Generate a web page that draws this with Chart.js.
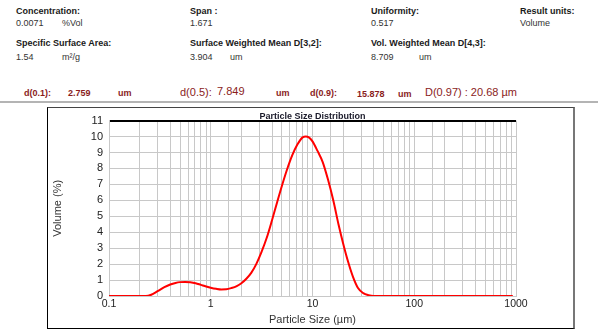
<!DOCTYPE html>
<html>
<head>
<meta charset="utf-8">
<script src="https://cdn.jsdelivr.net/npm/chart.js@4.4.1/dist/chart.umd.min.js"></script>
<style>
  html, body { margin: 0; padding: 0; background: #fff; }
  body { width: 598px; height: 332px; position: relative; overflow: hidden; font-family: "Liberation Sans", Arial, sans-serif; }
  .t { position: absolute; white-space: nowrap; line-height: 10px; font-size: 9px; color: #333; }
  .b { font-weight: bold; color: #1a1a1a; }
  .r { color: #8a1c1c; font-weight: bold; font-size: 9px; }
  .rb { color: #8a1c1c; font-size: 11px; line-height: 12px; }
  #sep { position: absolute; left: 0; top: 101px; width: 598px; height: 2px; background: #b4b4b4; }
  #box { position: absolute; left: 47px; top: 107px; width: 525px; height: 220px;
         border-left: 1px solid #000; border-top: 1px solid #444; border-bottom: 1px solid #000; border-right: 2px solid #777; }
</style>
</head>
<body>
<div class="t b" style="left:16px;top:6px">Concentration:</div>
<div class="t" style="left:16px;top:18px">0.0071</div>
<div class="t" style="left:62px;top:18px">%Vol</div>
<div class="t b" style="left:190px;top:6px">Span :</div>
<div class="t" style="left:190px;top:18px">1.671</div>
<div class="t b" style="left:371px;top:6px">Uniformity:</div>
<div class="t" style="left:371px;top:18px">0.517</div>
<div class="t b" style="left:520px;top:6px">Result units:</div>
<div class="t" style="left:520px;top:18px">Volume</div>

<div class="t b" style="left:16px;top:38px">Specific Surface Area:</div>
<div class="t" style="left:16px;top:52px">1.54</div>
<div class="t" style="left:62px;top:52px">m²/g</div>
<div class="t b" style="left:190px;top:38px">Surface Weighted Mean D[3,2]:</div>
<div class="t" style="left:190px;top:52px">3.904</div>
<div class="t" style="left:230px;top:52px">um</div>
<div class="t b" style="left:371px;top:38px">Vol. Weighted Mean D[4,3]:</div>
<div class="t" style="left:371px;top:52px">8.709</div>
<div class="t" style="left:419px;top:52px">um</div>

<div class="t r" style="left:24px;top:88px">d(0.1):</div>
<div class="t r" style="left:68px;top:88px">2.759</div>
<div class="t r" style="left:118px;top:88px">um</div>
<div class="t rb" style="left:180px;top:86px">d(0.5):</div>
<div class="t rb" style="left:217px;top:85px">7.849</div>
<div class="t r" style="left:276px;top:88px">um</div>
<div class="t r" style="left:310px;top:88px">d(0.9):</div>
<div class="t r" style="left:357px;top:89px">15.878</div>
<div class="t r" style="left:398px;top:89px">um</div>
<div class="t rb" style="left:425px;top:86px">D(0.97) : 20.68 µm</div>

<div id="sep"></div>
<div id="box"><canvas id="psd" width="525" height="220"></canvas></div>

<script>
// particle size (um) and volume (%)
const sizes = [0.1, 0.15, 0.2, 0.23, 0.26, 0.3, 0.35, 0.4, 0.45, 0.5, 0.56, 0.63, 0.71, 0.8, 0.9,
  1.0, 1.13, 1.27, 1.42, 1.6, 1.8, 2.0, 2.25, 2.5, 2.8, 3.15, 3.55, 4.0, 4.5, 5.0, 5.6, 6.3, 7.1,
  8.0, 8.6, 9.2, 10.0, 11.2, 12.6, 14.2, 16.0, 18.0, 20.0, 22.5, 25.0, 28.0, 31.5, 35.5, 40, 50,
  100, 200, 500, 930];
const volumes = [0, 0, 0, 0, 0.08, 0.3, 0.55, 0.72, 0.82, 0.87, 0.88, 0.86, 0.8, 0.7, 0.6,
  0.52, 0.45, 0.41, 0.42, 0.5, 0.62, 0.8, 1.1, 1.45, 2.0, 2.75, 3.65, 4.75, 5.9, 6.9, 7.9, 8.8, 9.5,
  9.95, 10.0, 9.95, 9.7, 9.1, 8.4, 7.3, 6.0, 4.5, 3.3, 2.1, 1.2, 0.5, 0.18, 0.05, 0, 0,
  0, 0, 0, 0];
const xTickLabels = ["0.1", "1", "10", "100", "1000"];
const yMax = 11;

const gridGray = "#c8c8c8";
const font = "'Liberation Sans', Arial, sans-serif";

new Chart(document.getElementById("psd"), {
  type: "line",
  data: {
    datasets: [{
      data: sizes.map((s, i) => ({x: s, y: volumes[i]})),
      borderColor: "#ff0000",
      borderWidth: 2,
      pointRadius: 0,
      fill: false,
      cubicInterpolationMode: "monotone",
    }],
  },
  options: {
    responsive: false,
    animation: false,
    layout: {padding: {left: 0, right: 57, top: 0, bottom: 0}},
    plugins: {
      legend: {display: false},
      tooltip: {enabled: false},
      title: {
        display: true,
        fullSize: false,
        text: "Particle Size Distribution",
        color: "#1a1a2a",
        font: {family: font, size: 9, weight: "bold", lineHeight: 1},
        padding: 0,
      },
    },
    scales: {
      x: {
        type: "logarithmic",
        min: 0.1,
        max: 1000,
        afterFit: (scale) => { scale.height = 32; },
        grid: {color: gridGray, lineWidth: 1, drawTicks: false},
        border: {color: gridGray},
        ticks: {
          autoSkip: false,
          maxRotation: 0,
          padding: 2,
          color: "#222",
          font: {family: font, size: 10.5},
          callback: (v) => (xTickLabels.includes(String(v)) ? String(v) : ""),
        },
        title: {
          display: true,
          text: "Particle Size (µm)",
          color: "#333",
          font: {family: font, size: 11},
          padding: {top: 0, bottom: 1},
        },
      },
      y: {
        min: 0,
        max: yMax,
        afterFit: (scale) => { scale.width = 61; },
        grid: {
          drawTicks: false,
          color: (c) => (c.tick && c.tick.value === yMax ? "#000" : gridGray),
          lineWidth: (c) => (c.tick && c.tick.value === yMax ? 2 : 1),
        },
        border: {color: gridGray},
        ticks: {
          stepSize: 1,
          autoSkip: false,
          padding: 6,
          color: "#222",
          font: {family: font, size: 11},
        },
        title: {
          display: true,
          text: "Volume (%)",
          color: "#333",
          font: {family: font, size: 11},
          padding: {top: 3, bottom: 0},
        },
      },
    },
  },
});
</script>
</body>
</html>
